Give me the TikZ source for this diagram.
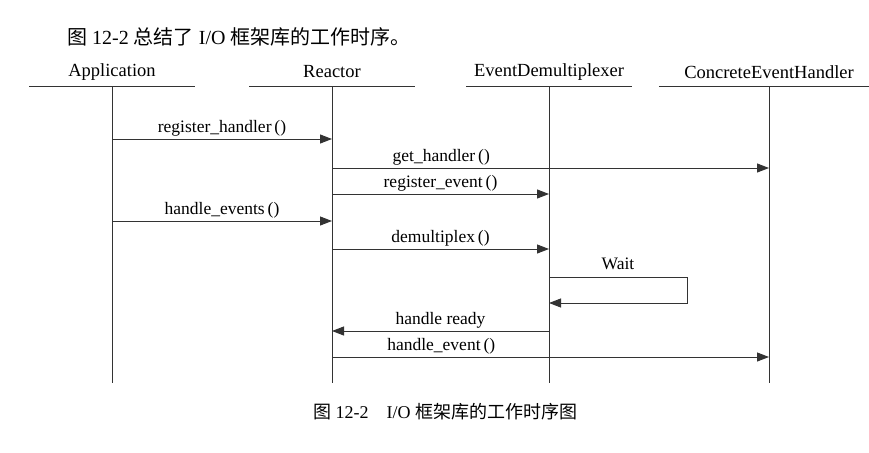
\documentclass[tikz,border=0pt]{standalone}
\usepackage{fontspec}
\setmainfont{Liberation Serif}
\newfontfamily\cjk{Noto Sans CJK SC}
\usetikzlibrary{arrows.meta}
\tikzstyle{actor} = [rectangle, 
minimum width=165pt, 
minimum height=28pt, 
inner sep=0pt, 
text centered, 
font=\fontsize{18.5}{22}\selectfont]
\tikzstyle{life} = [line width=1pt, draw=black!80]
\tikzstyle{msg} = [above, inner sep=2pt, 
font=\fontsize{17.5}{20}\selectfont]
\tikzstyle{arrow} = [line width=1pt, draw=black!80, 
-{Triangle[length=12pt,width=9pt]}]

\begin{document}
\begin{tikzpicture}[x=1pt, y=-1pt]
\useasboundingbox (0,0) rectangle (869,452);

\node (title) [anchor=west, inner sep=0pt, font=\fontsize{20}{24}\selectfont] at (67,37) {{\cjk 图} 12-2 {\cjk 总结了} I/O {\cjk 框架库的工作时序。}};

\node (app) [actor] at (112,72) {Application};
\node (reac) [actor] at (332,72) {Reactor};
\node (dem) [actor] at (549,72) {EventDemultiplexer};
\node (ceh) [actor, minimum width=220pt] at (769,72) {ConcreteEventHandler};

\coordinate (bottom) at (0,383);
\coordinate (r1) at (0,139);
\coordinate (r2) at (0,168);
\coordinate (r3) at (0,194);
\coordinate (r4) at (0,221);
\coordinate (r5) at (0,249);
\coordinate (waitR) at (687,277);
\coordinate (waitB) at (687,303);
\coordinate (r6) at (0,331);
\coordinate (r7) at (0,357);

\draw [life] (app.south west) -- (app.south east);
\draw [life] (reac.south west) -- (reac.south east);
\draw [life] (dem.south west) -- (dem.south east);
\draw [life] (ceh.south west) -- (ceh.south east);
\draw [life] (app.south) -- (app.south |- bottom);
\draw [life] (reac.south) -- (reac.south |- bottom);
\draw [life] (dem.south) -- (dem.south |- bottom);
\draw [life] (ceh.south) -- (ceh.south |- bottom);

\draw [arrow] (app |- r1) -- node [msg] {register\_handler\,()} (reac |- r1);
\draw [arrow] (reac |- r2) -- node [msg, pos=0.25] {get\_handler\,()} (ceh |- r2);
\draw [arrow] (reac |- r3) -- node [msg] {register\_event\,()} (dem |- r3);
\draw [arrow] (app |- r4) -- node [msg] {handle\_events\,()} (reac |- r4);
\draw [arrow] (reac |- r5) -- node [msg] {demultiplex\,()} (dem |- r5);
\draw [arrow] (dem |- waitR) -- node [msg, yshift=5pt] {Wait} (waitR) -- (waitB) -- (dem |- waitB);
\draw [arrow] (dem |- r6) -- node [msg] {handle ready} (reac |- r6);
\draw [arrow] (reac |- r7) -- node [msg, pos=0.25] {handle\_event\,()} (ceh |- r7);

\node (caption) [anchor=west, inner sep=0pt, font=\fontsize{18}{22}\selectfont] at (313,412) {{\cjk 图} 12-2\quad I/O {\cjk 框架库的工作时序图}};

\end{tikzpicture}
\end{document}
